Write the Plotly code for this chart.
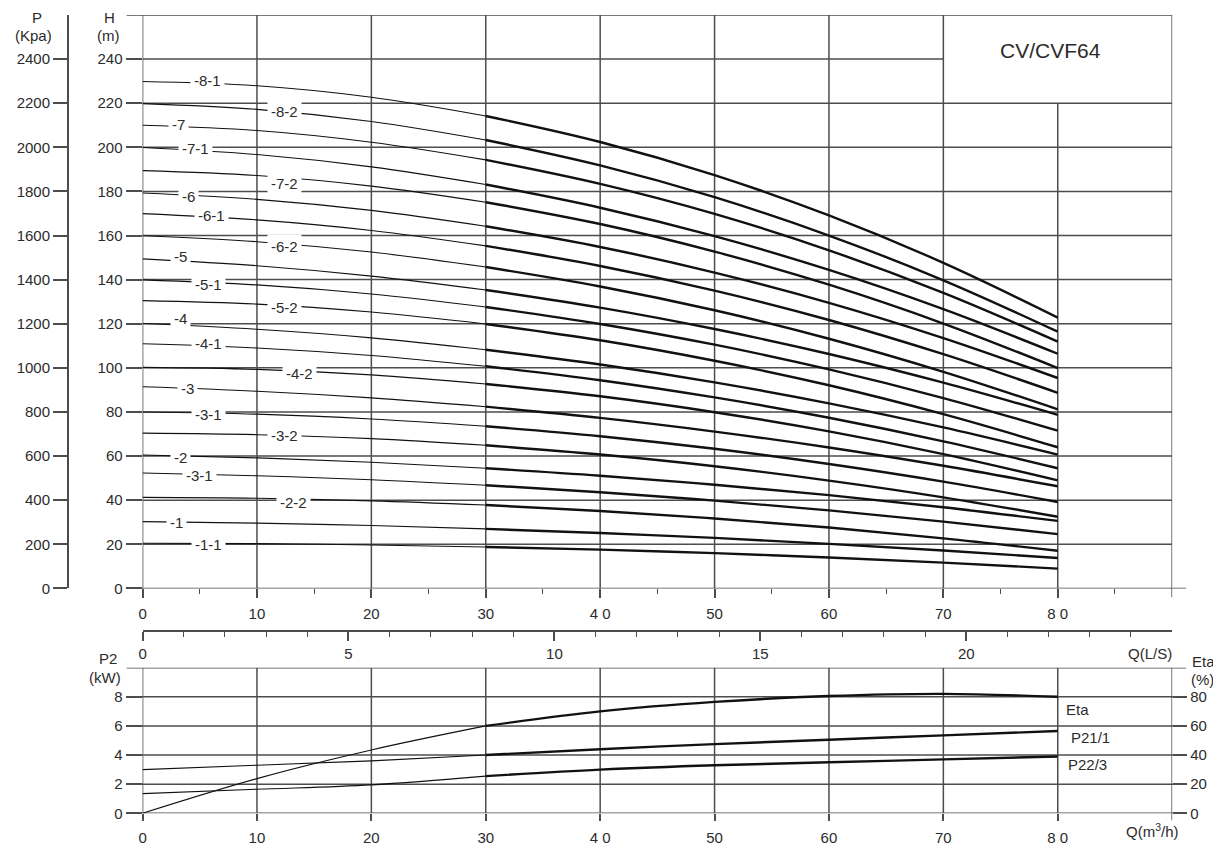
import plotly.graph_objects as go

# ---------------- data ----------------
Q = [0, 10, 20, 30, 40, 50, 60, 70, 80]          # m3/h

H_8_1 = [229.8, 227.9, 222.7, 214.2, 202.4, 187.4, 169.1, 147.6, 122.8]
H_8_2 = [219.8, 217.2, 211.7, 203.3, 191.8, 177.4, 160.0, 139.7, 116.4]
H_7   = [210.0, 207.6, 202.3, 194.3, 183.4, 169.8, 153.3, 134.0, 111.9]
H_7_1 = [199.9, 196.7, 191.1, 183.1, 172.6, 159.7, 144.4, 126.6, 106.4]
H_7_2 = [189.4, 187.2, 182.4, 175.1, 165.2, 152.7, 137.7, 120.1, 99.9]
H_6   = [179.3, 176.4, 171.4, 164.2, 154.8, 143.2, 129.5, 113.5, 95.4]
H_6_1 = [169.9, 167.1, 162.3, 155.3, 146.2, 135.0, 121.7, 106.2, 88.7]
H_6_2 = [159.9, 157.2, 152.5, 145.7, 136.9, 126.1, 113.2, 98.2, 81.2]
H_5   = [149.4, 146.3, 141.6, 135.3, 127.3, 117.6, 106.3, 93.3, 78.7]
H_5_1 = [139.9, 137.6, 133.5, 127.6, 119.9, 110.5, 99.3, 86.3, 71.5]
H_5_2 = [130.5, 128.9, 125.3, 119.9, 112.5, 103.2, 92.1, 79.0, 64.0]
H_4   = [120.1, 117.5, 113.6, 108.2, 101.5, 93.4, 83.9, 73.0, 60.7]
H_4_1 = [110.9, 109.0, 105.6, 100.7, 94.4, 86.6, 77.4, 66.7, 54.5]
H_4_2 = [100.2, 99.3, 96.8, 92.7, 87.1, 79.9, 71.2, 60.9, 49.0]
H_3   = [91.4, 89.4, 86.4, 82.4, 77.3, 71.1, 63.9, 55.6, 46.3]
H_3_1 = [80.0, 79.0, 76.8, 73.5, 69.0, 63.3, 56.4, 48.4, 39.2]
H_3_2 = [70.4, 69.7, 67.9, 64.9, 60.7, 55.4, 48.9, 41.3, 32.5]
H_2   = [60.5, 59.2, 57.2, 54.5, 51.1, 47.0, 42.3, 36.8, 30.6]
H_2_1 = [52.3, 51.1, 49.3, 46.8, 43.6, 39.8, 35.4, 30.3, 24.6]
H_2_2 = [41.3, 40.9, 39.7, 37.8, 35.1, 31.7, 27.6, 22.7, 17.1]
H_1   = [30.3, 29.6, 28.5, 27.0, 25.1, 22.9, 20.2, 17.2, 13.8]
H_1_1 = [20.5, 20.3, 19.7, 18.8, 17.6, 16.0, 14.0, 11.7, 9.0]

CURVE_LABELS = ["-8-1", "-8-2", "-7", "-7-1", "-7-2", "-6", "-6-1", "-6-2",
                "-5", "-5-1", "-5-2", "-4", "-4-1", "-4-2", "-3", "-3-1",
                "-3-2", "-2", "-3-1", "-2-2", "-1", "-1-1"]
CURVES = [H_8_1, H_8_2, H_7, H_7_1, H_7_2, H_6, H_6_1, H_6_2, H_5, H_5_1,
          H_5_2, H_4, H_4_1, H_4_2, H_3, H_3_1, H_3_2, H_2, H_2_1, H_2_2,
          H_1, H_1_1]

ETA   = [0, 23.8, 43.5, 60.0, 70.0, 76.5, 80.5, 82.0, 80.0]      # %
P21_1 = [3.0, 3.3, 3.6, 4.0, 4.4, 4.75, 5.05, 5.35, 5.65]        # kW
P22_3 = [1.35, 1.65, 1.95, 2.55, 3.0, 3.3, 3.5, 3.7, 3.9]        # kW

X_TICKS = [0, 10, 20, 30, 40, 50, 60, 70, 80]
X_TICKTEXT = ["0", "10", "20", "30", "4 0", "50", "60", "70", "8 0"]
H_TICKS = list(range(0, 241, 20))
P_TICKS = list(range(0, 2401, 200))
LS_TICKS = [0, 5, 10, 15, 20]
P2_TICKS = [0, 2, 4, 6, 8]
ETA_TICKS = [0, 20, 40, 60, 80]

# label placement (layout only)
LABEL_POS = [(5.7, 230.3), (12.4, 216.0), (3.1, 210.3), (4.6, 199.5), (12.4, 183.4),
             (4.0, 177.8), (6.0, 168.9), (12.4, 154.9), (3.3, 150.6), (5.75, 137.9),
             (12.4, 127.2), (3.3, 122.6), (5.75, 110.9), (13.7, 97.4), (3.9, 90.5),
             (5.75, 78.7), (12.4, 69.2), (3.3, 59.2), (5.0, 51.2), (13.2, 39.0),
             (3.0, 29.8), (5.75, 20.1)]

# ---------------- geometry helpers ----------------
# page body has an 8px margin: figure is shifted by 8px, so size it to fill the window
OFF = 8
W, HGT = 1221 - OFF, 850 - OFF

FONT = "Liberation Sans, Arial, Helvetica, sans-serif"
TXT = "#2b2b2b"
GRID = "#4d4d4d"
CURVE = "#111111"

def px(x):
    return (x - OFF) / W

def py(y):
    return 1 - (y - OFF) / HGT

XDOM = [px(139), px(1172)]
YDOM_TOP = [py(594), py(15)]
YDOM_BOT = [py(821), py(674)]

fig = go.Figure()

# ---------- top panel curves ----------
for h in CURVES:
    fig.add_trace(go.Scatter(x=Q[:4], y=h[:4], mode="lines", xaxis="x", yaxis="y",
                             line=dict(color=CURVE, width=1.1, shape="spline"),
                             hoverinfo="skip", showlegend=False))
    fig.add_trace(go.Scatter(x=Q[3:], y=h[3:], mode="lines", xaxis="x", yaxis="y",
                             line=dict(color=CURVE, width=2.4, shape="spline"),
                             hoverinfo="skip", showlegend=False))

# dummy traces for free axes
fig.add_trace(go.Scatter(x=[0], y=[0], xaxis="x", yaxis="y2", mode="markers",
                         marker=dict(opacity=0), hoverinfo="skip", showlegend=False))
fig.add_trace(go.Scatter(x=[0], y=[0], xaxis="x3", yaxis="y", mode="markers",
                         marker=dict(opacity=0), hoverinfo="skip", showlegend=False))

# ---------- bottom panel curves ----------
ETA_SCALED = [e / 10 for e in ETA]
for ser in (ETA_SCALED, P21_1, P22_3):
    fig.add_trace(go.Scatter(x=Q[:4], y=ser[:4], mode="lines", xaxis="x2", yaxis="y3",
                             line=dict(color=CURVE, width=1.1, shape="spline"),
                             hoverinfo="skip", showlegend=False))
    fig.add_trace(go.Scatter(x=Q[3:], y=ser[3:], mode="lines", xaxis="x2", yaxis="y3",
                             line=dict(color=CURVE, width=2.4, shape="spline"),
                             hoverinfo="skip", showlegend=False))
fig.add_trace(go.Scatter(x=[0], y=[0], xaxis="x2", yaxis="y4", mode="markers",
                         marker=dict(opacity=0), hoverinfo="skip", showlegend=False))

# ---------- grid shapes ----------
shapes = []
def line(x0, y0, x1, y1, xref, yref, w=1.5):
    shapes.append(dict(type="line", x0=x0, y0=y0, x1=x1, y1=y1, xref=xref, yref=yref,
                       line=dict(color=GRID, width=w), layer="below"))

for xv in [0, 10, 20, 30, 40, 50, 60, 70]:
    line(xv, 0, xv, 260, "x", "y")
line(80, 0, 80, 220, "x", "y")
line(90, py(603), 90, py(15), "x", "paper")          # right border with its tick
for hv in range(20, 221, 20):
    line(0, hv, 90, hv, "x", "y")
line(0, 240, 70, 240, "x", "y")
line(px(123), 260, px(1172), 260, "paper", "y")
line(px(123), 0, px(1186), 0, "paper", "y")

for xv in range(0, 81, 10):
    line(xv, 0, xv, 10, "x2", "y3")
line(90, py(828), 90, py(674), "x2", "paper")
for pv in [0, 2, 4, 6, 8, 10]:
    line(px(123), pv, px(1186), pv, "paper", "y3")

# ---------- annotations ----------
ann = []
for lab, (lq, lh) in zip(CURVE_LABELS, LABEL_POS):
    ann.append(dict(x=lq, y=lh, xref="x", yref="y", text=lab, showarrow=False,
                    font=dict(family=FONT, size=15, color=TXT), bgcolor="white",
                    borderpad=3))

def text(x, y, s, size=15, xanchor="center"):
    ann.append(dict(x=px(x), y=py(y), xref="paper", yref="paper", text=s,
                    showarrow=False, xanchor=xanchor, yanchor="middle",
                    font=dict(family=FONT, size=size, color=TXT)))

text(33, 18, "P")
text(30, 36, "(Kpa)")
text(106, 18, "H")
text(105, 36, "(m)")
text(1050, 51, "CV/CVF64", size=21)
text(1150, 660, "Q(L/S)")
text(104, 665, "P2")
text(101, 684, "(kW)")
text(1203, 668, "Eta")
text(1202, 686, "(%)")
text(1152, 838, "Q(m<sup>3</sup>/h)")
text(1063, 716, "Eta", xanchor="left")
text(1068, 745, "P21/1", xanchor="left")
text(1065, 772, "P22/3", xanchor="left")

tickfont = dict(family=FONT, size=15, color=TXT)

fig.update_layout(
    width=W, height=HGT, margin=dict(l=0, r=0, t=0, b=0),
    paper_bgcolor="white", plot_bgcolor="rgba(0,0,0,0)",
    shapes=shapes, annotations=ann, showlegend=False,
    xaxis=dict(domain=XDOM, range=[0, 90], anchor="y", showgrid=False, zeroline=False,
               showline=False, tickmode="array", tickvals=X_TICKS, ticktext=X_TICKTEXT,
               ticks="outside", ticklen=9, tickwidth=1.5, tickcolor=GRID, tickfont=tickfont,
               ticklabelstandoff=3,
               minor=dict(tickmode="array", tickvals=[5, 15, 25, 35, 45, 55, 65, 75, 85],
                          ticks="outside", ticklen=5, tickwidth=1.2, tickcolor=GRID),
               fixedrange=True),
    yaxis=dict(domain=YDOM_TOP, range=[0, 260], anchor="x", showgrid=False, zeroline=False,
               showline=False, tickmode="array", tickvals=H_TICKS, ticks="outside",
               ticklen=16, tickwidth=1.5, tickcolor=GRID, tickfont=tickfont, fixedrange=True),
    yaxis2=dict(domain=YDOM_TOP, range=[0, 2600], anchor="free", position=px(64),
                overlaying="y", side="left", showgrid=False, zeroline=False, showline=True,
                linecolor=GRID, linewidth=1.5, tickmode="array", tickvals=P_TICKS,
                ticks="outside", ticklen=14, tickwidth=1.5, tickcolor=GRID,
                tickfont=tickfont, fixedrange=True),
    xaxis3=dict(domain=XDOM, range=[0, 25], anchor="free", position=py(637),
                overlaying="x", side="bottom", showgrid=False, zeroline=False, showline=True,
                linecolor=GRID, linewidth=1.5, tickmode="array", tickvals=LS_TICKS,
                ticks="outside", ticklen=9, tickwidth=1.5, tickcolor=GRID, tickfont=tickfont,
                minor=dict(tickmode="array", tickvals=[v for v in range(1, 25) if v % 5],
                           ticks="outside", ticklen=5, tickwidth=1.2, tickcolor=GRID),
                fixedrange=True),
    xaxis2=dict(domain=XDOM, range=[0, 90], anchor="y3", showgrid=False, zeroline=False,
                showline=False, tickmode="array", tickvals=X_TICKS, ticktext=X_TICKTEXT,
                ticks="outside", ticklen=7, tickwidth=1.5, tickcolor=GRID, tickfont=tickfont,
                ticklabelstandoff=4, fixedrange=True),
    yaxis3=dict(domain=YDOM_BOT, range=[0, 10], anchor="x2", showgrid=False, zeroline=False,
                showline=False, tickmode="array", tickvals=P2_TICKS, ticks="outside",
                ticklen=16, tickwidth=1.5, tickcolor=GRID, tickfont=tickfont, fixedrange=True),
    yaxis4=dict(domain=YDOM_BOT, range=[0, 100], anchor="x2", overlaying="y3", side="right",
                showgrid=False, zeroline=False, showline=False, tickmode="array",
                tickvals=ETA_TICKS, ticks="outside", ticklen=14, tickwidth=1.5,
                tickcolor=GRID, tickfont=tickfont, fixedrange=True),
)

fig.write_html("out.html")
